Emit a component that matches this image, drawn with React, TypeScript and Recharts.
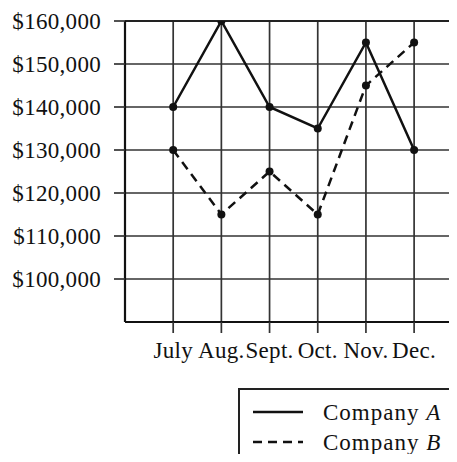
import React from "react";
import { CartesianGrid, Line, LineChart, ReferenceLine, XAxis, YAxis } from "recharts";

const MONTHS = ["July", "Aug.", "Sept.", "Oct.", "Nov.", "Dec."];
const COMPANY_A = [140000, 160000, 140000, 135000, 155000, 130000];
const COMPANY_B = [130000, 115000, 125000, 115000, 145000, 155000];
const Y_TICKS = [100000, 110000, 120000, 130000, 140000, 150000, 160000];
const X_TICKS = [1, 2, 3, 4, 5, 6];

const FONT = "'Liberation Serif', 'Times New Roman', serif";
const TICK = { fill: "#111", fontSize: 23, fontFamily: FONT, letterSpacing: 0.3 };

const data = MONTHS.map((m, i) => ({ pos: i + 1, month: m, a: COMPANY_A[i], b: COMPANY_B[i] }));

const money = (v: number) => "$" + v.toLocaleString("en-US");

export default function App() {
  return (
    <div style={{ position: "relative", width: 457, height: 462, margin: -8, overflow: "hidden", background: "#fff" }}>
      <LineChart width={457} height={462} data={data} margin={{ top: 21, right: 0, bottom: 110, left: 0 }}>
        <CartesianGrid stroke="#333" strokeWidth={1.7} horizontalValues={Y_TICKS} verticalValues={X_TICKS} />
        <XAxis
          dataKey="pos"
          type="number"
          domain={[0, 6.89]}
          ticks={X_TICKS}
          interval={0}
          height={30}
          tickFormatter={(v: number) => MONTHS[v - 1]}
          tick={TICK}
          tickSize={11}
          tickMargin={9}
          stroke="#111"
          strokeWidth={2.2}
          tickLine={{ stroke: "#333", strokeWidth: 1.7 }}
          allowDataOverflow
        />
        <YAxis
          type="number"
          domain={[90000, 160000]}
          ticks={Y_TICKS}
          interval={0}
          tickFormatter={money}
          tick={TICK}
          width={125}
          tickSize={11}
          tickMargin={13}
          stroke="#111"
          strokeWidth={2.2}
          tickLine={{ stroke: "#333", strokeWidth: 1.7 }}
          allowDataOverflow
        />
        <ReferenceLine y={160000} stroke="#222" strokeWidth={2.2} />
        <Line
          dataKey="a"
          type="linear"
          stroke="#111"
          strokeWidth={2.5}
          dot={{ r: 4, fill: "#111", stroke: "#111", strokeWidth: 0 }}
          isAnimationActive={false}
        />
        <Line
          dataKey="b"
          type="linear"
          stroke="#111"
          strokeWidth={2.5}
          strokeDasharray="9 6"
          dot={{ r: 4, fill: "#111", stroke: "#111", strokeWidth: 0, strokeDasharray: "0" }}
          isAnimationActive={false}
        />
      </LineChart>
      <div
        style={{
          position: "absolute",
          left: 238,
          top: 388,
          width: 300,
          height: 120,
          border: "2px solid #222",
          boxSizing: "border-box",
        }}
      />
      <svg width={457} height={462} style={{ position: "absolute", left: 0, top: 0, pointerEvents: "none" }}>
        <line x1={253} x2={303} y1={412} y2={412} stroke="#111" strokeWidth={2.5} />
        <line x1={253} x2={303} y1={442} y2={442} stroke="#111" strokeWidth={2.5} strokeDasharray="9 6" />
        <text x={323} y={420} fontFamily={FONT} fontSize={23} letterSpacing={1} fill="#111">
          Company <tspan fontStyle="italic">A</tspan>
        </text>
        <text x={323} y={450} fontFamily={FONT} fontSize={23} letterSpacing={1} fill="#111">
          Company <tspan fontStyle="italic">B</tspan>
        </text>
      </svg>
    </div>
  );
}
